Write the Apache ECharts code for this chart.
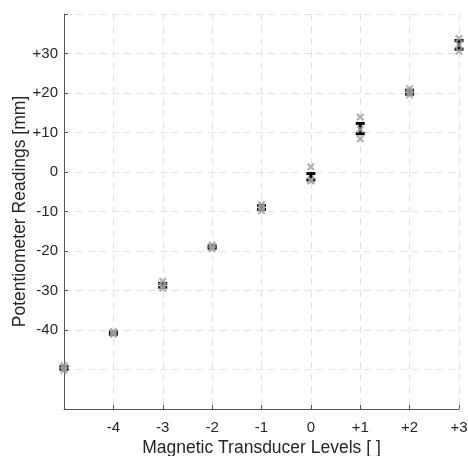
<!DOCTYPE html>
<html>
<head>
<meta charset="utf-8">
<script src="https://cdn.jsdelivr.net/npm/echarts@6/dist/echarts.min.js"></script>
<style>
  html, body { margin: 0; padding: 0; background: #fff; }
  #chart { width: 468px; height: 456px; }
</style>
</head>
<body>
<div id="chart"></div>
<script>
// transducer levels
const levels = [-5, -4, -3, -2, -1, 0, 1, 2, 3]
// individual trials (gray crosses)
const trial1 = [-49.0, -40.4, -27.7, -18.5, -8.2, 1.3, 13.9, 21.1, 33.8]
const trial2 = [-50.2, -41.1, -28.9, -19.1, -9.0, -2.0, 8.4, 19.5, 30.6]
const trial3 = [-49.6, -40.8, -29.4, -19.4, -9.8, -2.3, 10.8, 20.2, 32.2]
// mean and error half-width (black error bars)
const means = [-49.6, -40.8, -28.7, -19.0, -9.0, -1.2, 11.0, 20.2, 32.2]
const errs = [0.4, 0.3, 0.5, 0.3, 0.5, 0.8, 1.3, 0.5, 1.1]
const yLabelsShown = [-40, -30, -20, -10, 0, 10, 20, 30]

const textColor = '#262626'
const axisColor = '#555'
const gridLine = { show: true, lineStyle: { color: '#e3e3e3', type: [7, 5], width: 1 } }

const crossPath = 'path://M2,0 L5,3 L8,0 L10,2 L7,5 L10,8 L8,10 L5,7 L2,10 L0,8 L3,5 L0,2 Z'

function fmtSigned(v) {
  return v > 0 ? '+' + v : String(v)
}

const trialPoints = []
;[trial1, trial2, trial3].forEach(t => {
  t.forEach((v, i) => trialPoints.push([levels[i], v]))
})

const chart = echarts.init(document.getElementById('chart'))
chart.setOption({
  animation: false,
  backgroundColor: '#fff',
  textStyle: { fontFamily: 'Liberation Sans' },
  grid: { left: 64, right: 9, top: 14, bottom: 47, containLabel: false, outerBoundsMode: 'none' },
  xAxis: {
    type: 'value',
    min: -5,
    max: 3,
    interval: 1,
    name: 'Magnetic Transducer Levels [ ]',
    nameLocation: 'middle',
    nameGap: 30,
    nameMoveOverlap: false,
    nameTextStyle: { color: textColor, fontSize: 17.5 },
    axisLine: { show: true, onZero: false, lineStyle: { color: axisColor } },
    axisTick: { show: true, inside: true, length: 4, lineStyle: { color: axisColor } },
    axisLabel: {
      color: textColor,
      fontSize: 15,
      margin: 11,
      formatter: v => (v === -5 ? '' : fmtSigned(v))
    },
    splitLine: gridLine
  },
  yAxis: {
    type: 'value',
    min: -60,
    max: 40,
    interval: 10,
    name: 'Potentiometer Readings [mm]',
    nameLocation: 'middle',
    nameGap: 35,
    nameMoveOverlap: false,
    nameTextStyle: { color: textColor, fontSize: 17.5 },
    axisLine: { show: true, onZero: false, lineStyle: { color: axisColor } },
    axisTick: { show: true, inside: true, length: 4, lineStyle: { color: axisColor } },
    axisLabel: {
      color: textColor,
      fontSize: 15,
      margin: 6,
      formatter: v => (yLabelsShown.indexOf(v) >= 0 ? fmtSigned(v) : '')
    },
    splitLine: gridLine
  },
  series: [
    {
      type: 'custom',
      data: levels.map((x, i) => [x, means[i], means[i] - errs[i], means[i] + errs[i]]),
      encode: { x: 0, y: [1, 2, 3] },
      renderItem(params, api) {
        const x = api.value(0)
        const c = api.coord([x, api.value(1)])
        const lo = api.coord([x, api.value(2)])
        const hi = api.coord([x, api.value(3)])
        const half = 4.5
        const style = { stroke: '#000', lineWidth: 3 }
        return {
          type: 'group',
          children: [
            { type: 'line', shape: { x1: lo[0], y1: lo[1], x2: hi[0], y2: hi[1] }, style },
            { type: 'line', shape: { x1: lo[0] - half, y1: lo[1], x2: lo[0] + half, y2: lo[1] }, style },
            { type: 'line', shape: { x1: hi[0] - half, y1: hi[1], x2: hi[0] + half, y2: hi[1] }, style },
            { type: 'circle', shape: { cx: c[0], cy: c[1], r: 1.5 }, style: { fill: '#000' } }
          ]
        }
      },
      z: 2
    },
    {
      type: 'scatter',
      data: trialPoints,
      symbol: crossPath,
      symbolSize: 8,
      itemStyle: { color: '#a0a0a0' },
      z: 3
    }
  ]
})
</script>
</body>
</html>
